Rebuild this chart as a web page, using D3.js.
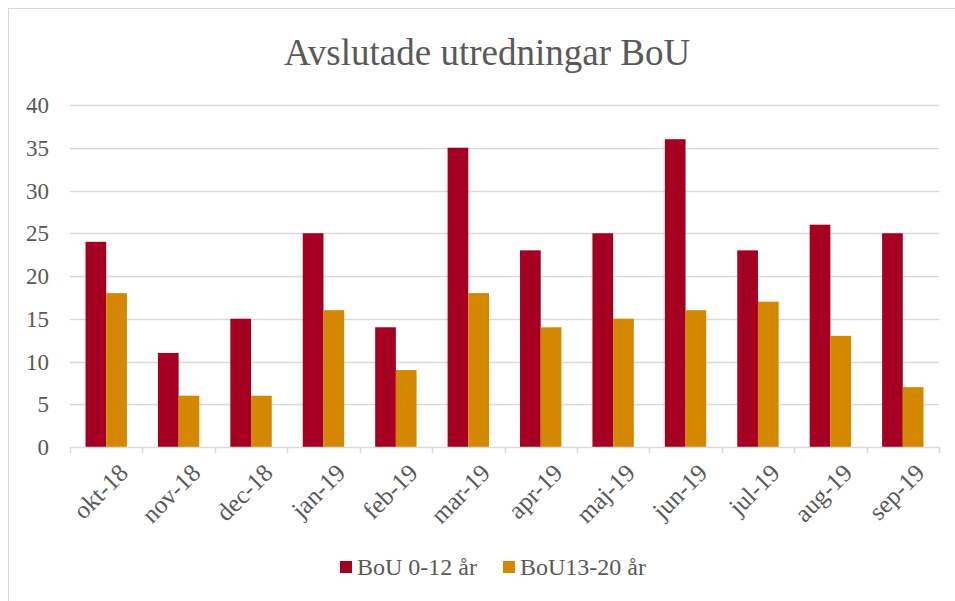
<!DOCTYPE html>
<html>
<head>
<meta charset="utf-8">
<script src="https://cdn.jsdelivr.net/npm/d3@7"></script>
<style>
  body { margin: 0; background: #fff; }
  text { font-family: "Liberation Serif", "Times New Roman", serif; fill: #595959; }
</style>
</head>
<body>
<svg id="chart"></svg>
<script>
const months = ["okt-18", "nov-18", "dec-18", "jan-19", "feb-19", "mar-19",
                "apr-19", "maj-19", "jun-19", "jul-19", "aug-19", "sep-19"]
const young = [24, 11, 15, 25, 14, 35, 23, 25, 36, 23, 26, 25]
const older = [18, 6, 6, 16, 9, 18, 14, 15, 16, 17, 13, 7]
const seriesNames = ["BoU 0-12 år", "BoU13-20 år"]
const colours = ["#A50021", "#D38800"]
const yTicks = [0, 5, 10, 15, 20, 25, 30, 35, 40]

const W = 955, H = 601
const margin = { top: 105, right: 16, bottom: 154, left: 70 }
const w = W - margin.left - margin.right
const h = H - margin.top - margin.bottom

const svg = d3.select("#chart").attr("width", W).attr("height", H)

// outer chart border
svg.append("rect")
  .attr("x", 8.5).attr("y", 8.5).attr("width", 980).attr("height", 620)
  .style("fill", "none").style("stroke", "#d9d9d9")

svg.append("text")
  .attr("x", 487).attr("y", 65)
  .attr("text-anchor", "middle")
  .style("font-size", "37px")
  .text("Avslutade utredningar BoU")

const g = svg.append("g").attr("transform", "translate(" + margin.left + "," + margin.top + ")")

const x = d3.scaleBand().domain(months).range([0, w]).paddingInner(0).paddingOuter(0)
const y = d3.scaleLinear().domain([0, 40]).range([h, 0])

// gridlines
g.selectAll(".grid").data(yTicks.slice(1)).enter().append("line")
  .attr("x1", 0).attr("x2", w)
  .attr("y1", d => Math.round(y(d)) + 0.5).attr("y2", d => Math.round(y(d)) + 0.5)
  .style("stroke", "#d9d9d9").style("stroke-width", 1.5)

// y labels
g.selectAll(".ylab").data(yTicks).enter().append("text")
  .attr("x", -21).attr("y", d => y(d))
  .attr("dy", "0.35em")
  .attr("text-anchor", "end")
  .style("font-size", "23px")
  .text(d => d)

// bars: gap width 150%
const barW = x.bandwidth() / 3.5
const groups = [young, older]
groups.forEach((vals, s) => {
  g.selectAll(".bar" + s).data(vals).enter().append("rect")
    .attr("x", (d, i) => x(months[i]) + barW * 0.75 + s * barW)
    .attr("y", d => y(d))
    .attr("width", barW)
    .attr("height", d => h - y(d))
    .style("fill", colours[s])
})

// x axis line and ticks
const xAxis = g.append("g").attr("transform", "translate(0," + h + ")")
xAxis.append("line")
  .attr("x1", 0).attr("x2", w).attr("y1", 0.5).attr("y2", 0.5)
  .style("stroke", "#d9d9d9").style("stroke-width", 1.5)
xAxis.selectAll(".tick").data(d3.range(months.length + 1)).enter().append("line")
  .attr("x1", i => Math.round(i * x.step()) + 0.5).attr("x2", i => Math.round(i * x.step()) + 0.5)
  .attr("y1", 0).attr("y2", 6)
  .style("stroke", "#d9d9d9").style("stroke-width", 1.5)

xAxis.selectAll(".xlab").data(months).enter().append("text")
  .attr("transform", d => "translate(" + (x(d) + x.bandwidth() / 2 + 11) + ",15) rotate(-45)")
  .attr("text-anchor", "end")
  .attr("dy", "0.7em")
  .style("font-size", "25px")
  .text(d => d)

// legend
const legend = svg.append("g").attr("transform", "translate(340,567)")
const legX = [0, 163]
seriesNames.forEach((name, s) => {
  legend.append("rect")
    .attr("x", legX[s]).attr("y", -6).attr("width", 12).attr("height", 12)
    .style("fill", colours[s])
  legend.append("text")
    .attr("x", legX[s] + 17).attr("y", 0).attr("dy", "0.35em")
    .style("font-size", "24px")
    .text(name)
})
</script>
</body>
</html>
